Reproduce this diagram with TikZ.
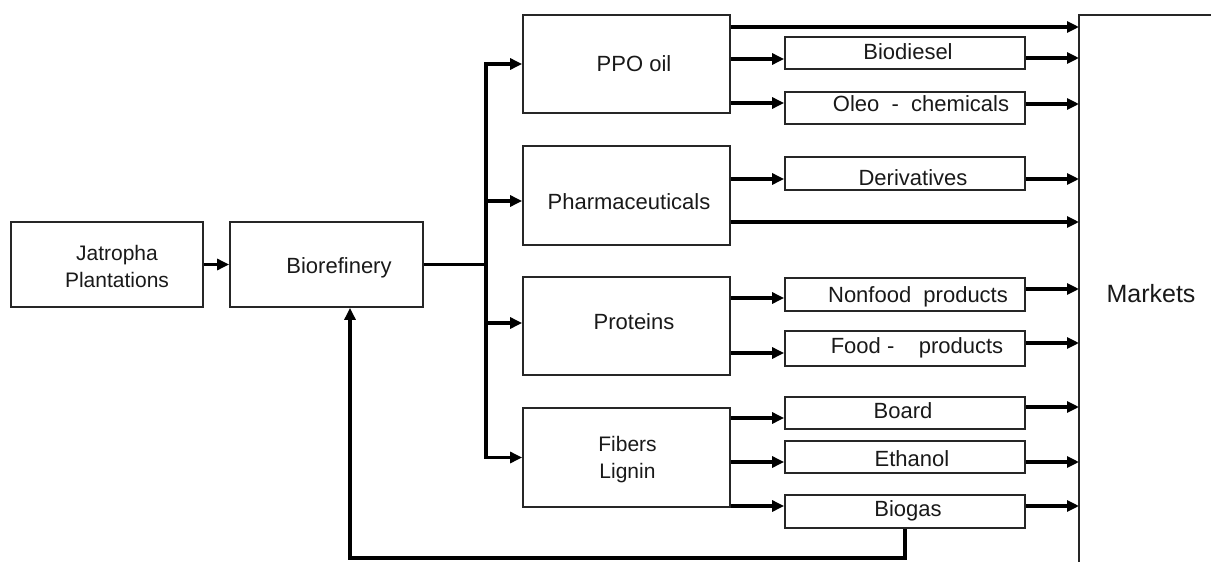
\documentclass[tikz,border=0pt]{standalone}
\usepackage{fontspec}
\setmainfont{Liberation Sans}
\usetikzlibrary{arrows.meta}
\begin{document}
\begin{tikzpicture}[x=1pt,y=-1pt,
  box/.style={draw=black!85, line width=1.8pt, rectangle, inner sep=0pt},
  bigbox/.style={box, minimum width=207pt},
  smallbox/.style={box, minimum width=240pt},
  lab/.style={font=\fontsize{22}{27}\selectfont, text=black!90, text height=16pt, text depth=0pt, inner sep=0pt, anchor=center},
  lab2/.style={font=\fontsize{21}{27}\selectfont, text=black!90, align=center, inner sep=0pt, anchor=center},
  conn/.style={line width=3.2pt, black, line join=miter},
  arr/.style={conn, -{Triangle[length=12pt,width=11pt]}},
]
\useasboundingbox (0,0) rectangle (1211,562);

% boxes
\node[box, minimum width=192pt, minimum height=85pt] (jat) at (107,264.5) {};
\node[box, minimum width=193pt, minimum height=85pt] (bio) at (326.5,264.5) {};
\node[bigbox, minimum height=98pt] (ppo) at (626.5,64) {};
\node[bigbox, minimum height=99pt] (pha) at (626.5,195.5) {};
\node[bigbox, minimum height=98pt] (pro) at (626.5,326) {};
\node[bigbox, minimum height=99pt] (fib) at (626.5,457.5) {};
\node[smallbox, minimum height=32pt] (biod) at (905,53) {};
\node[smallbox, minimum height=32pt] (oleo) at (905,108) {};
\node[smallbox, minimum height=33pt] (der) at (905,173.5) {};
\node[smallbox, minimum height=33pt] (nonf) at (905,294.5) {};
\node[smallbox, minimum height=35pt] (food) at (905,348.5) {};
\node[smallbox, minimum height=32pt] (board) at (905,413) {};
\node[smallbox, minimum height=32pt] (eth) at (905,457) {};
\node[smallbox, minimum height=33pt] (gas) at (905,511.5) {};

% texts
\node[lab2] (tjat) at (117,266) {Jatropha\\Plantations};
\node[lab] (tbio) at (339,265) {Biorefinery};
\node[lab] (tppo) at (634,63.5) {PPO oil};
\node[lab] (tpha) at (629,201) {Pharmaceuticals};
\node[lab] (tpro) at (634,321) {Proteins};
\node[lab2] (tfib) at (627.5,460) {Fibers\\Lignin};
\node[lab] (tbiod) at (908,51) {Biodiesel};
\node[lab] (toleo) at (921,103) {Oleo\ \ -\ \ chemicals};
\node[lab] (tder) at (913,177) {Derivatives};
\node[lab] (tnonf) at (918,294) {Nonfood\ \ products};
\node[lab] (tfood) at (917,345) {Food\ -\ \ \ \ products};
\node[lab] (tboard) at (903,410) {Board};
\node[lab] (teth) at (912,458) {Ethanol};
\node[lab] (tgas) at (908,508) {Biogas};
\node[lab, font=\fontsize{25}{30}\selectfont, text height=18pt] (tmk) at (1151,293) {Markets};

% markets boundary
\coordinate (mk) at (1079,0);
\coordinate (bus) at (486,264.5);
\draw[box] (mk |- 0,562) -- (mk |- 0,15) -- (1211,15);

% left side
\draw[arr] (jat.east) -- (bio.east -| bio.west);
\draw[conn] (bio.east) -- (bus);
\draw[arr] (bus) |- (ppo.west);
\draw[arr] (bus) |- (fib.west);
\draw[arr] (bus |- 0,201) -- (pha.west |- 0,201);
\draw[arr] (bus |- 0,323) -- (pro.west |- 0,323);

% PPO
\draw[arr] (ppo.east |- 0,27) -- (mk |- 0,27);
\draw[arr] (ppo.east |- 0,59) -- (biod.west |- 0,59);
\draw[arr] (biod.east |- 0,58) -- (mk |- 0,58);
\draw[arr] (ppo.east |- 0,103) -- (oleo.west |- 0,103);
\draw[arr] (oleo.east |- 0,104) -- (mk |- 0,104);
% Pharma
\draw[arr] (pha.east |- 0,179) -- (der.west |- 0,179);
\draw[arr] (der.east |- 0,179) -- (mk |- 0,179);
\draw[arr] (pha.east |- 0,222) -- (mk |- 0,222);
% Proteins
\draw[arr] (pro.east |- 0,298) -- (nonf.west |- 0,298);
\draw[arr] (nonf.east |- 0,289) -- (mk |- 0,289);
\draw[arr] (pro.east |- 0,353) -- (food.west |- 0,353);
\draw[arr] (food.east |- 0,343) -- (mk |- 0,343);
% Fibers
\draw[arr] (fib.east |- 0,418) -- (board.west |- 0,418);
\draw[arr] (board.east |- 0,407) -- (mk |- 0,407);
\draw[arr] (fib.east |- 0,462) -- (eth.west |- 0,462);
\draw[arr] (eth.east |- 0,462) -- (mk |- 0,462);
\draw[arr] (fib.east |- 0,506) -- (gas.west |- 0,506);
\draw[arr] (gas.east |- 0,506) -- (mk |- 0,506);

% feedback
\draw[arr] (gas.south) -- (gas.south |- 0,558) -| (bio.south -| 350,0);
\end{tikzpicture}
\end{document}
